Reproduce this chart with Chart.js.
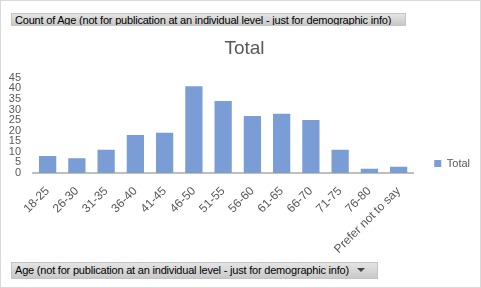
<!DOCTYPE html>
<html>
<head>
<meta charset="utf-8">
<script src="https://cdn.jsdelivr.net/npm/chart.js@4.4.0/dist/chart.umd.min.js"></script>
<style>
  html, body { margin: 0; padding: 0; background: #fff; }
  #wrap { position: relative; width: 479px; height: 286px; border: 1px solid #d9d9d9; background: #fff; overflow: hidden; }
  #c { position: absolute; left: 0; top: 0; }
  .btn {
    position: absolute; box-sizing: border-box;
    font-family: "Liberation Sans", Arial, sans-serif; font-size: 11px; color: #000;
    background: linear-gradient(#e4e4e4, #c9c9c9); border: 1px solid #c4c4c4;
    padding: 0 3px; white-space: nowrap; overflow: hidden; letter-spacing: -0.2px;
  }
  #b1 { left: 10px; top: 12px; width: 395px; height: 13px; line-height: 12px; }
  #b2 { left: 10px; top: 261px; width: 367px; height: 17px; line-height: 15px; }
  .arr { display: inline-block; width: 0; height: 0; border-left: 4px solid transparent; border-right: 4px solid transparent; border-top: 4px solid #444; margin-left: 8px; vertical-align: 2px; }
</style>
</head>
<body>
<div id="wrap">
  <canvas id="c" width="479" height="286"></canvas>
  <div class="btn" id="b1">Count of Age (not for publication at an individual level - just for demographic info)</div>
  <div class="btn" id="b2">Age (not for publication at an individual level - just for demographic info)<span class="arr"></span></div>
</div>
<script>
// age bands and counts
const ageBands = ["18-25", "26-30", "31-35", "36-40", "41-45", "46-50", "51-55", "56-60", "61-65", "66-70", "71-75", "76-80", "Prefer not to say"];
const counts = [8, 7, 11, 18, 19, 41, 34, 27, 28, 25, 11, 2, 3];
const yTicks = [0, 5, 10, 15, 20, 25, 30, 35, 40, 45];

const grey = "#595959";
const fontFam = "'Liberation Sans', Arial, sans-serif";

new Chart(document.getElementById("c"), {
  type: "bar",
  data: {
    labels: ageBands,
    datasets: [{
      label: "Total",
      data: counts,
      backgroundColor: "#7b9dd5",
      barPercentage: 0.59,
      categoryPercentage: 1.0
    }]
  },
  options: {
    responsive: false,
    animation: false,
    layout: { padding: { left: 8, right: 0, top: 30, bottom: 34 } },
    plugins: {
      title: {
        display: true, text: "Total", color: grey,
        font: { family: fontFam, size: 19, weight: "normal" },
        padding: { top: 6, bottom: 18 }
      },
      legend: {
        position: "right", align: "start", maxWidth: 70,
        // empty title only pushes the single entry down to where Excel puts it
        title: { display: true, text: " ", font: { size: 10 }, padding: { top: 0, bottom: 94 } },
        labels: { boxWidth: 7, boxHeight: 7, color: grey, font: { family: fontFam, size: 11 }, padding: 21 }
      },
      tooltip: { enabled: false }
    },
    scales: {
      x: {
        afterFit: (ax) => { ax.height = 80; },
        grid: { display: false },
        border: { color: "#bfbfbf", width: 2 },
        ticks: { color: grey, font: { family: fontFam, size: 12 }, minRotation: 45, maxRotation: 45, padding: 3 }
      },
      y: {
        min: 0, max: 45,
        afterFit: (ax) => { ax.width = 24; },
        afterBuildTicks: (ax) => { ax.ticks = yTicks.map(v => ({ value: v })); },
        grid: { display: false, drawTicks: false, tickLength: 0 },
        border: { display: false },
        ticks: { color: grey, font: { family: fontFam, size: 11 }, padding: 12, autoSkip: false }
      }
    }
  }
});
</script>
</body>
</html>
